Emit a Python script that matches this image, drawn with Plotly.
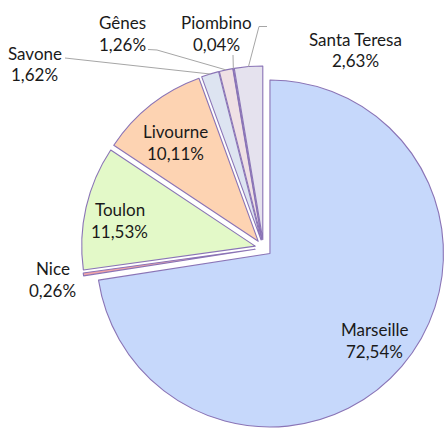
import math
import plotly.graph_objects as go

# ---- data ----
ports = ["Marseille", "Nice", "Toulon", "Livourne", "Savone", "Gênes", "Piombino", "Santa Teresa"]
shares = [72.54, 0.26, 11.53, 10.11, 1.62, 1.26, 0.04, 2.63]
share_labels = ["72,54%", "0,26%", "11,53%", "10,11%", "1,62%", "1,26%", "0,04%", "2,63%"]

# ---- style / layout ----
W, H = 446, 430
colors = ["#c6d8fb", "#f2a4a6", "#e3f9c8", "#fdd3b2", "#dde4f1", "#efe0e4", "#8a72b4", "#e5e2ee"]
edge = "#8a74b6"
CX, CY, R = 263.5, 248.0, 173.5        # pie centre / radius in pixels
PULL_PX = 8.5
pull = PULL_PX / R
half = R * (1 + pull)

dom_x = [max(0, (CX - half) / W), min(1, (CX + half) / W)]
dom_y = [max(0, 1 - (CY + half) / H), min(1, 1 - (CY - half) / H)]

fig = go.Figure(go.Pie(
    labels=ports, values=shares, sort=False, direction="clockwise", rotation=0,
    pull=[pull] * len(shares), textinfo="none", hoverinfo="label+percent",
    marker=dict(colors=colors, line=dict(color=edge, width=1.1)),
    domain=dict(x=dom_x, y=dom_y), showlegend=False,
))


def px(x, y):
    """pixel -> paper coordinates"""
    return x / W, 1 - y / H


# label centres (pixels) as in the reference
label_pos = {
    "Marseille": (374.5, 340), "Nice": (52.5, 279.5), "Toulon": (119.5, 220.5),
    "Livourne": (175, 142.5), "Savone": (34.5, 64), "Gênes": (122, 33.5),
    "Piombino": (216, 33.5), "Santa Teresa": (355.5, 50),
}
LINE_GAP = 11
font = dict(family="Lato", size=17, color="#1a1a1a")

anns = []
for name, lab in zip(ports, share_labels):
    x, y = label_pos[name]
    for txt, yy in ((name, y - LINE_GAP), (lab, y + LINE_GAP)):
        ax, ay = px(x, yy)
        anns.append(dict(x=ax, y=ay, xref="paper", yref="paper", text=txt, showarrow=False,
                         xanchor="center", yanchor="middle", font=font))

# attachment point of leader lines: outer arc at slice bisector (with pull)
total = sum(shares)
cum = 0
attach = {}
for name, v in zip(ports, shares):
    a0 = cum / total * 360
    cum += v
    a1 = cum / total * 360
    mid = math.radians((a0 + a1) / 2)
    dx, dy = math.sin(mid), -math.cos(mid)
    attach[name] = (CX + (PULL_PX + R) * dx, CY + (PULL_PX + R) * dy)

leader_start = {
    "Savone": [(65, 58)],
    "Gênes": [(148, 49.5), (157, 50)],
    "Piombino": [(233, 55)],
    "Santa Teresa": [(267, 26.5), (259, 26.5)],
}
shapes = []
for name, pts in leader_start.items():
    path_pts = pts + [attach[name]]
    for (x0, y0), (x1, y1) in zip(path_pts[:-1], path_pts[1:]):
        X0, Y0 = px(x0, y0)
        X1, Y1 = px(x1, y1)
        shapes.append(dict(type="line", xref="paper", yref="paper", x0=X0, y0=Y0, x1=X1, y1=Y1,
                           line=dict(color="#a6a6a6", width=1)))

fig.update_layout(width=W, height=H, margin=dict(l=0, r=0, t=0, b=0),
                  paper_bgcolor="white", plot_bgcolor="white",
                  annotations=anns, shapes=shapes)
fig.write_html("out.html", config={"displayModeBar": False},
               post_script="document.body.style.margin='0';document.body.style.overflow='hidden';")
